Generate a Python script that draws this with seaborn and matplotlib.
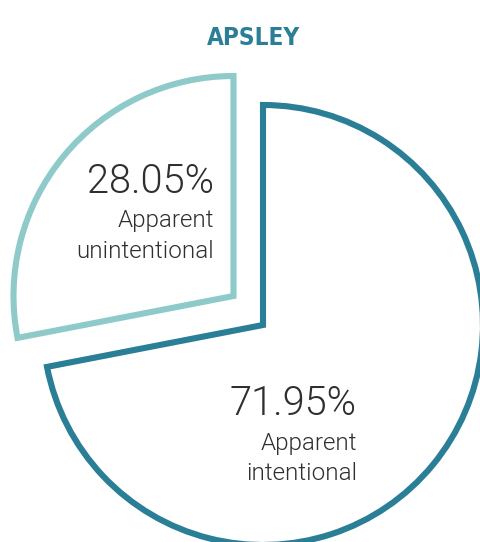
import matplotlib
matplotlib.use("Agg")
from matplotlib import pyplot as plt
import seaborn as sns

sns.set_theme(style="white")

# data
labels = ["Apparent\nintentional", "Apparent\nunintentional"]
shares = [71.95, 28.05]
colors = ["#2a7f97", "#8fcaca"]
title = "APSLEY"

W, H = 481, 542
fig = plt.figure(figsize=(W / 100, H / 100), dpi=100)
ax = fig.add_axes([0, 0, 1, 1])

# pie centre at pixel (263, 325), radius 220 px
cx, cy, r = 263, 325, 220
wedges, _ = ax.pie(shares, startangle=90, counterclock=False,
                   radius=1, center=(0, 0),
                   wedgeprops=dict(facecolor="white", linewidth=4.4, joinstyle="miter"))
for w, c in zip(wedges, colors):
    w.set_edgecolor(c)
# pull the small slice out up-left
wedges[1].set_center((-29.5 / r, 29 / r))

ax.set_xlim(-cx / r, (W - cx) / r)
ax.set_ylim(-(H - cy) / r, cy / r)
ax.set_aspect("auto")
ax.axis("off")

txt = "#2f2f2f"
# label positions in pixels (right edge, baselines)
spots = [(357, 415, 450, 480), (214, 193, 227, 258)]
for (x, yb, y1, y2), s, lab in zip(spots, shares, labels):
    l1, l2 = lab.split("\n")
    fig.text(x / W, 1 - yb / H, f"{s:.2f}%", ha="right", va="baseline",
             fontsize=28.6, family="Roboto", fontweight=300, color=txt)
    fig.text(x / W, 1 - y1 / H, l1, ha="right", va="baseline",
             fontsize=17.4, family="Roboto", fontweight=300, color=txt)
    fig.text(x / W, 1 - y2 / H, l2, ha="right", va="baseline",
             fontsize=17.4, family="Roboto", fontweight=300, color=txt)

fig.text(254 / W, 1 - 45 / H, title, ha="center", va="baseline",
         fontsize=17.5, fontweight="bold", fontstretch="condensed", color="#2a7f97",
         family="DejaVu Sans")

fig.savefig("out.png", dpi=100)
